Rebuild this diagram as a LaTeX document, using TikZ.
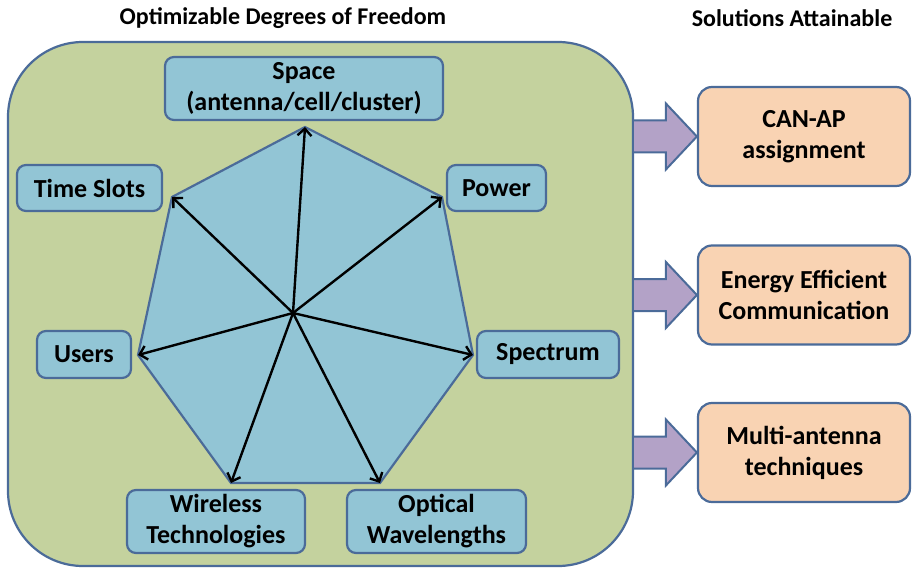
\documentclass[tikz,border=0pt]{standalone}
\usepackage{fontspec}
\setmainfont{Carlito}
\usetikzlibrary{arrows.meta,calc}
\definecolor{panelgreen}{HTML}{C4D29E}
\definecolor{dofblue}{HTML}{92C5D5}
\definecolor{edgeblue}{HTML}{4B6B99}
\definecolor{solpeach}{HTML}{F9D3B3}
\definecolor{arrowlilac}{HTML}{B3A2C7}
\tikzset{
  lbl/.style={font=\fontsize{26}{31}\selectfont\bfseries, align=center, inner sep=0pt},
  dof/.style={lbl, draw=edgeblue, line width=2.2pt, fill=dofblue, rounded corners=9pt},
  sol/.style={lbl, draw=edgeblue, line width=2.2pt, fill=solpeach, rounded corners=14pt,
    minimum width=212pt, minimum height=99pt},
  spoke/.style={line width=2.4pt, -{Straight Barb[length=7pt,width=14pt,line width=2.4pt]}},
  blockfill/.style={fill=arrowlilac},
  blockedge/.style={draw=edgeblue, line width=2pt, line join=miter},
}
\begin{document}
\begin{tikzpicture}[x=1pt,y=-1pt]
\useasboundingbox (0,0) rectangle (912,569);

% headings
\node[lbl, font=\fontsize{24}{28}\selectfont\bfseries] (hdof) at (283,18) {Optimizable Degrees of Freedom};
\node[lbl, font=\fontsize{24}{28}\selectfont\bfseries] (hsol) at (792,18) {Solutions Attainable};

% panel holding the degrees of freedom
\node[draw=edgeblue, line width=2.2pt, fill=panelgreen, rounded corners=75pt,
  minimum width=625pt, minimum height=524pt, inner sep=0pt] (panel) at (320.5,304) {};

% heptagon
\coordinate (c)  at (293,313);
\coordinate (v1) at (305,127);
\coordinate (v2) at (442,197);
\coordinate (v3) at (473,355);
\coordinate (v4) at (380,483);
\coordinate (v5) at (231,483);
\coordinate (v6) at (138,355);
\coordinate (v7) at (172,197);
\draw[fill=dofblue, draw=edgeblue, line width=2.2pt, line join=miter]
  (v1) -- (v2) -- (v3) -- (v4) -- (v5) -- (v6) -- (v7) -- cycle;
\foreach \v in {v1,v2,v3,v4,v5,v6,v7}
  \draw[spoke] (c) -- (\v);

% degree-of-freedom boxes
\node[dof, minimum width=278pt, minimum height=63pt] (space) at (304,88.5) {Space\\(antenna/cell/cluster)};
\node[dof, minimum width=145pt, minimum height=46pt] (time) at (89.5,188) {Time Slots};
\node[dof, minimum width=99pt, minimum height=46pt] (power) at (496.5,188) {Power};
\node[dof, minimum width=94pt, minimum height=47pt] (users) at (84,354.5) {Users};
\node[dof, minimum width=142pt, minimum height=47pt] (spectrum) at (548,354.5) {Spectrum};
\node[dof, minimum width=178pt, minimum height=63pt] (wireless) at (216,521.5) {Wireless\\Technologies};
\node[dof, minimum width=179pt, minimum height=63pt] (optical) at (436.5,521.5) {Optical\\Wavelengths};

% solution boxes
\node[sol] (canap) at (804,136.5) {CAN-AP\\assignment};
\node[sol] (energy) at (804,295) {Energy Efficient\\Communication};
\node[sol] (multi) at (804,452.5) {Multi-antenna\\techniques};

% block arrows from the panel to each solution
\foreach \s in {canap,energy,multi}{
  \path (panel.east |- \s.west) coordinate (tail-\s);
  \fill[blockfill] ([yshift=16pt]tail-\s) -- ([xshift=-31pt,yshift=16pt]\s.west)
    -- ([xshift=-31pt,yshift=33pt]\s.west) -- (\s.west)
    -- ([xshift=-31pt,yshift=-33pt]\s.west) -- ([xshift=-31pt,yshift=-16pt]\s.west)
    -- ([yshift=-16pt]tail-\s) -- cycle;
  \draw[blockedge] ([yshift=16pt]tail-\s) -- ([xshift=-31pt,yshift=16pt]\s.west)
    -- ([xshift=-31pt,yshift=33pt]\s.west) -- (\s.west)
    -- ([xshift=-31pt,yshift=-33pt]\s.west) -- ([xshift=-31pt,yshift=-16pt]\s.west)
    -- ([yshift=-16pt]tail-\s);
}
\end{tikzpicture}
\end{document}
